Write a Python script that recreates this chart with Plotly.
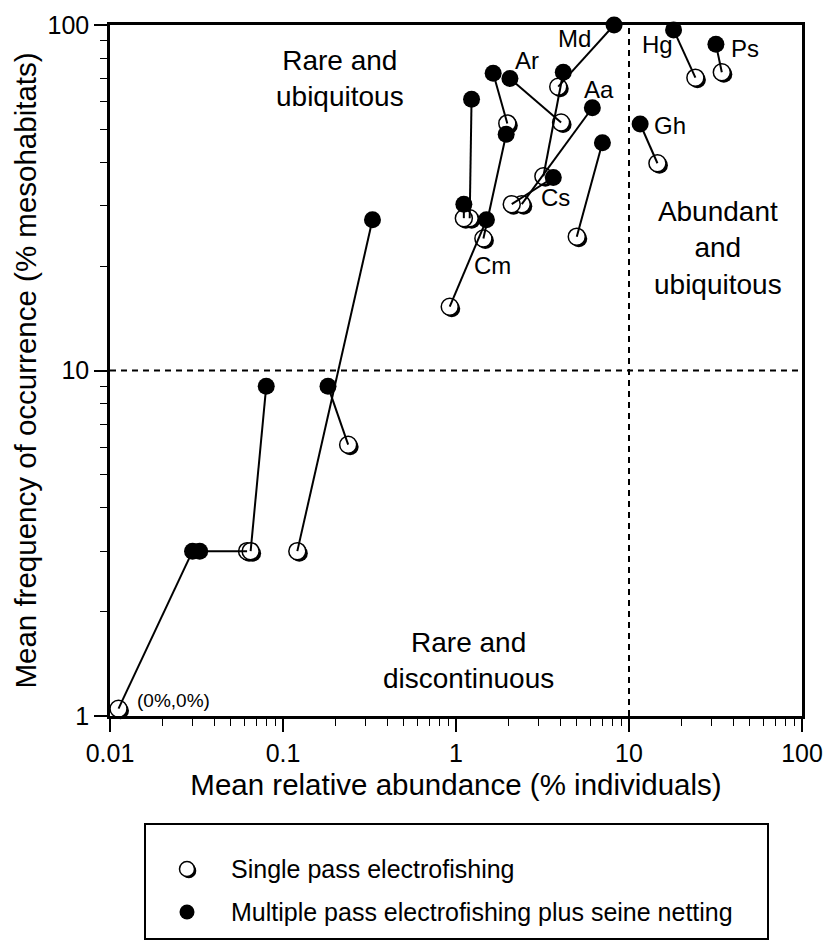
import numpy as np
import plotly.graph_objects as go

# One pair of values per species: single pass electrofishing (open circles)
# and multiple pass electrofishing plus seine netting (filled circles).
species = ["", "", "", "", "", "Md", "", "Ar", "", "", "", "Cm", "", "Aa", "Cs", "", "Gh", "Hg", "Ps"]

single_abund = [0.0112, 0.062, 0.065, 0.238, 0.121, 3.90, 3.20, 4.05, 1.98, 1.20,
                1.11, 1.44, 0.92, 2.40, 2.10, 4.99, 14.6, 24.2, 34.4]
single_occ = [1.05, 3.0, 3.0, 6.1, 3.0, 66.3, 36.5, 52.2, 51.9, 27.6,
              27.6, 24.1, 15.3, 30.3, 30.3, 24.4, 39.8, 70.4, 73.0]
multi_abund = [0.030, 0.033, 0.080, 0.182, 0.329, 8.2, 4.17, 2.05, 1.64, 1.23,
               1.11, 1.95, 1.50, 6.14, 3.65, 7.02, 11.6, 18.1, 31.8]
multi_occ = [3.0, 3.0, 9.0, 9.0, 27.3, 100.0, 73.0, 70.0, 72.5, 61.0,
             30.3, 48.3, 27.3, 57.6, 36.2, 45.6, 51.7, 96.8, 87.9]

# Thresholds splitting the plane into the three groups
abund_threshold = 10
occ_threshold = 10

x_major = [0.01, 0.1, 1, 10, 100]
x_major_text = ["0.01", "0.1", "1", "10", "100"]
y_major = [1, 10, 100]
y_major_text = ["1", "10", "100"]

# ---- layout geometry (pixels) ----
W, H = 823, 946
M_L, M_R, M_T, M_B = 110, 21, 25, 0
PLOT_W = W - M_L - M_R
PAPER_H = H - M_T - M_B
PLOT_BOTTOM_PX = 716
X_DECADES = 4
Y_DECADES = 2
px_dec_x = PLOT_W / X_DECADES
px_dec_y = (PLOT_BOTTOM_PX - M_T) / Y_DECADES


def paper_x(px):
    return (px - M_L) / PLOT_W


def paper_y(py):
    return (H - M_B - py) / PAPER_H


FONT = "Liberation Sans, Arial, sans-serif"
BLACK = "black"

# shadow of the open symbols: shifted a couple of pixels right and down
SHADOW_PX = 2.0
sh_fx = 10 ** (SHADOW_PX / px_dec_x)
sh_fy = 10 ** (-SHADOW_PX / px_dec_y)

sa = np.array(single_abund)
so = np.array(single_occ)
ma = np.array(multi_abund)
mo = np.array(multi_occ)

# connecting segments
seg_x, seg_y = [], []
for a1, o1, a2, o2 in zip(ma, mo, sa, so):
    seg_x += [a1, a2, None]
    seg_y += [o1, o2, None]

MARK = 17

fig = go.Figure()

fig.add_trace(go.Scatter(
    x=sa * sh_fx, y=so * sh_fy, mode="markers", cliponaxis=False,
    marker=dict(size=MARK, color=BLACK, line=dict(width=0)),
    hoverinfo="skip", showlegend=False))
fig.add_trace(go.Scatter(
    x=sa, y=so, mode="markers", cliponaxis=False, name="Single pass electrofishing",
    marker=dict(size=MARK, color="white", line=dict(color=BLACK, width=1.5)),
    showlegend=False))
fig.add_trace(go.Scatter(
    x=seg_x, y=seg_y, mode="lines", line=dict(color=BLACK, width=2),
    hoverinfo="skip", showlegend=False))
fig.add_trace(go.Scatter(
    x=ma, y=mo, mode="markers", cliponaxis=False,
    name="Multiple pass electrofishing plus seine netting",
    marker=dict(size=MARK, color=BLACK, line=dict(width=0)),
    showlegend=False))

# dashed threshold lines
fig.add_trace(go.Scatter(
    x=[abund_threshold, abund_threshold], y=[y_major[0], y_major[-1]], mode="lines",
    line=dict(color=BLACK, width=2, dash="6px,5px"), hoverinfo="skip", showlegend=False))
fig.add_trace(go.Scatter(
    x=[x_major[0], x_major[-1]], y=[occ_threshold, occ_threshold], mode="lines",
    line=dict(color=BLACK, width=2, dash="6px,5px"), hoverinfo="skip", showlegend=False))

# species labels, offset in pixels from their point
label_offset = {
    "Md": ("multi", -40, -13),
    "Ar": ("multi", 17, 18),
    "Aa": ("multi", 7, 18),
    "Cs": ("multi", 2, -20),
    "Gh": ("multi", 30, -2),
    "Hg": ("multi", -16, -15),
    "Ps": ("multi", 29, -4),
    "Cm": ("single", 9, -27),
}
annotations = []
for i, name in enumerate(species):
    if not name:
        continue
    which, dx, dy = label_offset[name]
    xa, ya = (ma[i], mo[i]) if which == "multi" else (sa[i], so[i])
    annotations.append(dict(
        x=np.log10(xa), y=np.log10(ya), xref="x", yref="y", text=name,
        showarrow=False, xshift=dx, yshift=dy, xanchor="center", yanchor="middle",
        font=dict(family=FONT, size=24, color=BLACK)))

annotations.append(dict(
    x=np.log10(sa[0]), y=np.log10(so[0]), xref="x", yref="y", text="(0%,0%)",
    showarrow=False, xanchor="left", yanchor="middle", xshift=16, yshift=8,
    font=dict(family=FONT, size=19, color=BLACK)))

region_font = dict(family=FONT, size=28, color=BLACK)
annotations += [
    dict(x=paper_x(340), y=paper_y(78), xref="paper", yref="paper", showarrow=False,
         xanchor="center", yanchor="middle",
         text="Rare and<br>ubiquitous", font=region_font, align="center"),
    dict(x=paper_x(718), y=paper_y(248), xref="paper", yref="paper", showarrow=False,
         xanchor="center", yanchor="middle",
         text="Abundant<br>and<br>ubiquitous", font=region_font, align="center"),
    dict(x=paper_x(468), y=paper_y(660), xref="paper", yref="paper", showarrow=False,
         xanchor="center", yanchor="middle",
         text="Rare and<br>discontinuous", font=region_font, align="center"),
]

# ---- legend box ----
LEG_L, LEG_R, LEG_T, LEG_B = 145, 768, 824, 939
leg_marker_px = 187
leg_rows_px = [869, 912]
leg_text_px = 229
leg_labels = ["Single pass electrofishing",
              "Multiple pass electrofishing plus seine netting"]

shapes = [dict(type="rect", xref="paper", yref="paper",
               x0=paper_x(LEG_L), x1=paper_x(LEG_R), y0=paper_y(LEG_B), y1=paper_y(LEG_T),
               line=dict(color=BLACK, width=2), fillcolor="rgba(0,0,0,0)")]

for row, lab in zip(leg_rows_px, leg_labels):
    annotations.append(dict(
        x=paper_x(leg_text_px), y=paper_y(row), xref="paper", yref="paper",
        text=lab, showarrow=False, xanchor="left", yanchor="middle",
        font=dict(family=FONT, size=25, color=BLACK)))

# legend symbols on an auxiliary axis covering the legend area
lx0, lx1 = paper_x(LEG_L), paper_x(LEG_R)
ly0, ly1 = paper_y(LEG_B), paper_y(LEG_T)


def leg_ax_x(px):
    return (px - LEG_L) / (LEG_R - LEG_L)


def leg_ax_y(py):
    return (LEG_B - py) / (LEG_B - LEG_T)


LEG_MARK = 15
fig.add_trace(go.Scatter(
    x=[leg_ax_x(leg_marker_px + 1.8)], y=[leg_ax_y(leg_rows_px[0] + 1.8)],
    xaxis="x2", yaxis="y2", mode="markers",
    marker=dict(size=LEG_MARK, color=BLACK), hoverinfo="skip", showlegend=False))
fig.add_trace(go.Scatter(
    x=[leg_ax_x(leg_marker_px)], y=[leg_ax_y(leg_rows_px[0])],
    xaxis="x2", yaxis="y2", mode="markers",
    marker=dict(size=LEG_MARK, color="white", line=dict(color=BLACK, width=1.5)),
    hoverinfo="skip", showlegend=False))
fig.add_trace(go.Scatter(
    x=[leg_ax_x(leg_marker_px)], y=[leg_ax_y(leg_rows_px[1])],
    xaxis="x2", yaxis="y2", mode="markers",
    marker=dict(size=LEG_MARK, color=BLACK), hoverinfo="skip", showlegend=False))

minor_x = [m * 10.0 ** e for e in range(-2, 2) for m in range(2, 10)]
minor_y = [m * 10.0 ** e for e in range(0, 2) for m in range(2, 10)]

axis_common = dict(
    showgrid=False, zeroline=False, showline=True, linecolor=BLACK, linewidth=2.5,
    mirror=True, ticks="outside", ticklen=13, tickwidth=1.5, tickcolor=BLACK,
    tickfont=dict(family=FONT, size=25, color=BLACK), automargin=False,
)

fig.update_layout(
    width=W, height=H,
    margin=dict(l=M_L, r=M_R, t=M_T, b=M_B),
    paper_bgcolor="white", plot_bgcolor="white",
    showlegend=False,
    xaxis=dict(
        type="log", range=[-2, 2], domain=[0, 1],
        tickvals=x_major, ticktext=x_major_text,
        minor=dict(tickvals=minor_x, ticks="outside", ticklen=7, tickwidth=1.2,
                   tickcolor=BLACK, showgrid=False),
        title=dict(text="Mean relative abundance (% individuals)", standoff=9,
                   font=dict(family=FONT, size=29.5, color=BLACK)),
        **axis_common),
    yaxis=dict(
        type="log", range=[0, 2], domain=[paper_y(PLOT_BOTTOM_PX), 1],
        tickvals=y_major, ticktext=y_major_text,
        minor=dict(tickvals=minor_y, ticks="outside", ticklen=7, tickwidth=1.2,
                   tickcolor=BLACK, showgrid=False),
        title=dict(text="Mean frequency of occurrence (% mesohabitats)", standoff=3,
                   font=dict(family=FONT, size=29.5, color=BLACK)),
        **axis_common),
    xaxis2=dict(domain=[lx0, lx1], range=[0, 1], visible=False, anchor="y2",
                fixedrange=True),
    yaxis2=dict(domain=[ly0, ly1], range=[0, 1], visible=False, anchor="x2",
                fixedrange=True),
    shapes=shapes,
    annotations=annotations,
)

fig.write_html("out.html")
